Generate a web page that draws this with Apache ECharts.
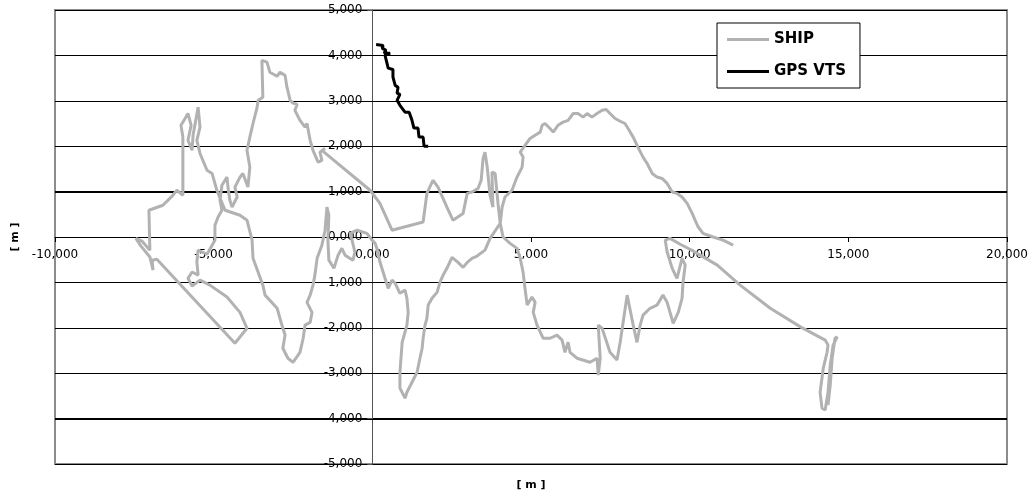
<!DOCTYPE html>
<html><head><meta charset="utf-8">
<script src="https://cdn.jsdelivr.net/npm/echarts@6/dist/echarts.min.js"></script>
<style>html,body{margin:0;padding:0;background:#fff}#c{width:1032px;height:497px}</style>
</head><body><div id="c"></div>
<script>
const seriesNames = ['SHIP', 'GPS VTS'];
const axisTitle = '[ m ]';

const shipX = [14360,14430,14490,14580,14650,14520,14430,14360,14270,14170,14110,14210,14330,14360,14270,
  13490,12540,11590,10870,10330,10010,9700,9380,9230,9290,9450,9600,9760,9860,9790,9760,9640,9480,9290,9160,
  8970,8750,8530,8440,8340,8220,8030,7810,7710,7490,7240,7120,7180,7120,7080,6860,6450,6230,6170,6070,5980,
  5820,5600,5380,5190,5070,5130,5030,4880,4810,4750,4660,4560,4340,4120,4030,3960,3870,3770,3800,3710,3620,
  3550,3490,3430,3330,3140,2990,2860,2540,2350,2070,1910,1720,1600,620,560,240,-70,-1590,-1490,-1650,-1590,
  -1710,-1870,-1960,-2060,-2120,-2280,-2440,-2370,-2500,-2590,-2690,-2750,-2910,-3000,-3230,-3320,-3480,
  -3450,-3600,-3630,-3760,-3860,-3950,-3860,-3920,-4080,-4170,-4330,-4260,-4420,-4490,-4550,-4580,-4740,
  -4800,-4740,-4860,-4960,-4960,-5210,-5490,-5530,-5490,-5680,-5810,-5680,-5430,-5120,-4580,-4170,-3950,
  -4330,-6790,-6940,-6910,-7010,-7290,-7450,-7260,-7010,-7040,-6600,-6310,-6160,-5970,-5970,-6030,-5900,
  -5810,-5710,-5810,-5680,-5650,-5490,-5430,-5530,-5430,-5210,-5050,-4900,-4640,-4170,-3950,-3790,-3760,
  -3450,-3380,-3000,-2850,-2750,-2820,-2660,-2500,-2280,-2180,-2120,-1960,-1900,-2060,-1960,-1870,-1810,
  -1740,-1590,-1490,-1430,-1370,-1400,-1370,-1210,-1080,-960,-860,-610,-550,-640,-700,-480,-170,-10,90,180,
  240,400,500,620,720,870,1030,1090,1130,1090,940,870,870,1030,1090,1250,1410,1500,1570,1600,1660,1720,1760,
  1880,2040,2130,2230,2350,2510,2700,2860,2990,3140,3300,3550,3710,4030,4090,4180,4400,4560,4720,4750,4660,
  4970,5130,5290,5350,5440,5600,5700,5850,6010,6170,6330,6480,6640,6770,6920,7080,7240,7370,7490,7650,7810,
  7960,8060,8220,8370,8530,8660,8820,8970,9130,9290,9450,9600,9760,9920,10080,10170,10270,10420,10740,11050,11370];
const shipY = [-3700,-3260,-2670,-2230,-2200,-2380,-2820,-3420,-3810,-3770,-3420,-2890,-2540,-2380,-2270,
  -1980,-1570,-1060,-620,-400,-270,-160,-30,-70,-330,-690,-910,-470,-620,-1000,-1350,-1660,-1900,-1440,-1280,
  -1500,-1570,-1720,-1940,-2320,-1940,-1280,-2320,-2710,-2540,-2010,-1940,-2670,-3040,-2670,-2760,-2670,-2540,
  -2320,-2540,-2270,-2160,-2230,-2230,-1940,-1660,-1440,-1320,-1500,-1130,-770,-470,-250,-140,0,300,740,1400,
  1430,660,920,1540,1870,1730,1250,1070,990,960,520,370,660,1100,1250,960,330,150,110,740,1030,1910,1950,1870,
  1690,1650,1910,2130,2500,2420,2570,2790,2920,2950,3010,3300,3560,3630,3540,3630,3850,3890,3080,3010,2860,
  2500,2200,1910,1540,1100,1400,1320,1100,880,660,810,1100,1320,1140,810,590,440,260,-70,-380,-290,-550,-840,
  -770,-910,-1080,-950,-1060,-1320,-1660,-2010,-2340,-490,-510,-730,-440,-200,-30,-90,-290,590,700,900,1030,
  920,2200,2460,2610,2720,2460,2130,1910,2240,2860,2420,2130,1840,1470,1400,1030,590,480,370,-70,-470,-1060,
  -1280,-1570,-1940,-2160,-2450,-2670,-2760,-2540,-2230,-1940,-1880,-1660,-1440,-1280,-1060,-840,-470,-180,
  150,660,480,-70,-510,-690,-400,-250,-400,-510,-330,-70,80,150,80,-70,-140,-330,-550,-910,-1130,-950,-1020,
  -1240,-1170,-1350,-1660,-1940,-2320,-2980,-3330,-3550,-3420,-3200,-2980,-2670,-2450,-2230,-1940,-1790,-1500,
  -1350,-1220,-1000,-840,-690,-450,-560,-670,-560,-470,-420,-290,-30,300,660,880,1030,1320,1540,1760,1870,
  2170,2240,2310,2460,2500,2390,2310,2460,2530,2570,2720,2720,2640,2720,2640,2720,2790,2810,2720,2610,2550,
  2500,2390,2200,1980,1760,1620,1400,1320,1290,1180,990,960,880,740,520,370,220,80,0,-70,-180];

const gpsX = [120,340,310,430,370,560,400,500,650,650,720,810,780,870,780,870,1030,1160,1250,1310,1440,1470,1600,1630,1760];
const gpsY = [4240,4220,4160,4110,4050,4050,4000,3720,3690,3520,3340,3300,3170,3140,3010,2900,2750,2750,2570,2400,2400,2200,2200,2000,2000];

const xTickValues = [-10000,-5000,0,5000,10000,15000,20000];
const xTickLabels = ['-10,000','-5,000','0,000','5,000','10,000','15,000','20,000'];
const yTickValues = [-5000,-4000,-3000,-2000,-1000,0,1000,2000,3000,4000,5000];
const yTickLabels = ['-5,000','-4,000','-3,000','-2,000','-1,000','0,000','1,000','2,000','3,000','4,000','5,000'];

const zip = (a, b) => a.map((v, i) => [v, b[i]]);
const lab = (vals, labs) => v => { const i = vals.indexOf(v); return i < 0 ? '' : labs[i]; };
const FONT = 'DejaVu Sans';
const LINE_ICON = 'path://M0 0H42V3H0Z';

const G = {left: 55, right: 25, top: 10, bottom: 33, width: 952, height: 454};
const X_MIN = -10000, X_MAX = 20000, Y_MIN = -5000, Y_MAX = 5000;
// axis offsets that bring both axes onto the zero lines
const xOff = -G.height * (0 - Y_MIN) / (Y_MAX - Y_MIN);
const yOff = -G.width * (0 - X_MIN) / (X_MAX - X_MIN);
// inner horizontal gridlines (the frame covers min and max)
const gridLineValues = yTickValues.slice(1, -1);

const chart = echarts.init(document.getElementById('c'), null, {renderer: 'canvas'});
chart.setOption({
  animation: false,
  backgroundColor: '#fff',
  grid: {left: G.left, right: G.right, top: G.top, bottom: G.bottom, containLabel: false, outerBoundsMode: 'none',
         show: true, borderColor: '#8c8c8c', borderWidth: 2, backgroundColor: 'transparent'},
  legend: {
    orient: 'vertical', left: 717, top: 23,
    padding: [9, 14, 9, 10], itemWidth: 42, itemHeight: 14, itemGap: 17,
    backgroundColor: '#fff', borderColor: '#000', borderWidth: 1, borderRadius: 0,
    textStyle: {fontFamily: FONT, fontWeight: 'bold', fontSize: 15, color: '#000'},
    data: seriesNames.map(n => ({name: n, icon: LINE_ICON}))
  },
  xAxis: {
    type: 'value', min: X_MIN, max: X_MAX, interval: 5000, position: 'bottom', offset: xOff,
    axisLine: {show: true, onZero: false, lineStyle: {color: '#000'}},
    axisTick: {show: true, length: 5, lineStyle: {color: '#000'}},
    axisLabel: {margin: 12, fontFamily: FONT, fontSize: 12, color: '#000', formatter: lab(xTickValues, xTickLabels)},
    splitLine: {show: false},
    name: axisTitle, nameLocation: 'middle', nameGap: 243,
    nameTextStyle: {fontFamily: FONT, fontWeight: 'bold', fontSize: 11, color: '#000'}
  },
  yAxis: {
    type: 'value', min: Y_MIN, max: Y_MAX, interval: 1000, position: 'left', offset: yOff,
    axisLine: {show: true, onZero: false, lineStyle: {color: '#555'}},
    axisTick: {show: true, length: 5, lineStyle: {color: '#555'}},
    axisLabel: {margin: 10, fontFamily: FONT, fontSize: 12, color: '#000', formatter: lab(yTickValues, yTickLabels)},
    splitLine: {show: true, lineStyle: {color: '#000'}},
    name: axisTitle, nameLocation: 'middle', nameGap: 352, nameRotate: 90,
    nameTextStyle: {fontFamily: FONT, fontWeight: 'bold', fontSize: 11, color: '#000'}
  },
  series: [
    {name: 'gridlines', type: 'custom', z: 1, silent: true, clip: false,
     data: gridLineValues.map(v => [X_MIN, v]),
     renderItem: (params, api) => {
       const a = api.coord([X_MIN, api.value(1)]);
       const b = api.coord([X_MAX, api.value(1)]);
       return {type: 'rect', shape: {x: a[0], y: Math.round(a[1]), width: b[0] - a[0], height: 1}, style: {fill: '#000'}};
     }},
    {name: seriesNames[0], type: 'line', data: zip(shipX, shipY), symbol: 'none', showSymbol: false,
     lineStyle: {color: '#b2b2b2', width: 3}, itemStyle: {color: '#b2b2b2'}, z: 2},
    {name: seriesNames[1], type: 'line', data: zip(gpsX, gpsY), symbol: 'none', showSymbol: false,
     lineStyle: {color: '#000', width: 3}, itemStyle: {color: '#000'}, z: 3}
  ]
});
</script></body></html>
